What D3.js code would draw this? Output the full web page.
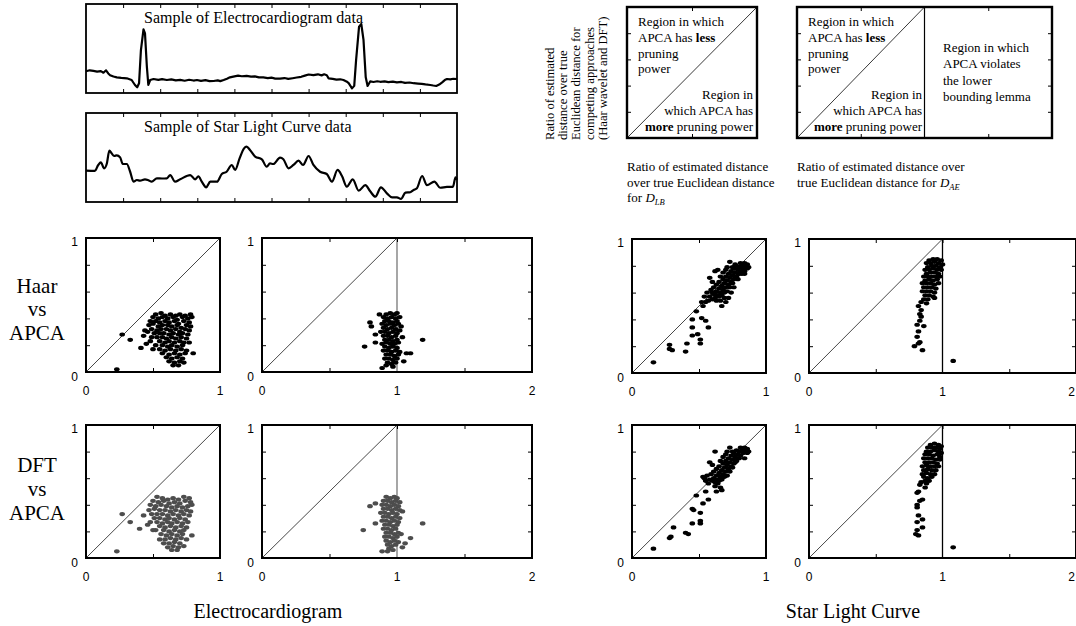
<!DOCTYPE html>
<html><head><meta charset="utf-8">
<script src="https://cdn.jsdelivr.net/npm/d3@7"></script>
<style>body{margin:0;background:#fff}svg{display:block}</style>
</head><body><svg id="c" width="1076" height="626"></svg>
<script>
// ---------- DATA ----------
const ecgSamples = [[0,24.5],[0.1,25.5],[0.2,24.8],[0.3,24],[0.4,24.6],[0.47,22.8],[0.54,25.5],[0.6,22],[0.65,20],[0.74,18.5],[0.83,17.6],[0.95,17],[1.10,16.5],[1.23,14.6],[1.32,9],[1.38,6.4],[1.43,11],[1.48,48],[1.55,71.5],[1.59,67],[1.64,30],[1.68,9],[1.73,14.6],[1.82,15.7],[1.95,14.8],[2.05,15.6],[2.18,14.6],[2.3,15.3],[2.42,14.2],[2.54,14.8],[2.66,13.8],[2.78,14.9],[2.9,14],[2.99,14.6],[3.1,13.6],[3.22,14.4],[3.33,13.3],[3.44,13.5],[3.55,14.2],[3.62,13.3],[3.71,14.6],[3.8,16],[3.88,17.6],[3.97,18.4],[4.1,19.5],[4.2,18.8],[4.33,19.2],[4.45,18.4],[4.55,18.7],[4.66,17.6],[4.78,17.6],[4.9,16.8],[5.0,17.2],[5.1,16.2],[5.23,16.1],[5.35,16.8],[5.45,15.8],[5.57,16.6],[5.68,17.4],[5.8,18.2],[5.9,19.5],[6.0,20.8],[6.13,20],[6.25,21],[6.35,19.8],[6.42,21],[6.49,20],[6.54,16.5],[6.65,15.8],[6.75,15],[6.85,15.4],[6.94,14.6],[7.02,13],[7.08,11],[7.17,5.2],[7.23,8],[7.28,37],[7.36,74.5],[7.42,77.5],[7.48,59.6],[7.54,17.6],[7.59,7.9],[7.66,13],[7.75,12.4],[7.85,13.2],[7.93,12.6],[8.05,13],[8.15,12.2],[8.27,12.8],[8.38,12],[8.5,12.4],[8.6,11.4],[8.72,11.8],[8.83,11],[8.95,10.6],[9.05,10.2],[9.15,9.6],[9.28,9],[9.36,8.4],[9.44,7.9],[9.52,9.5],[9.60,12],[9.67,14.5],[9.73,15.7],[9.82,15.4],[9.9,16],[10.0,15.7]];

const starSamples = [[0,35.2],[0.24,35],[0.33,41.6],[0.40,44.6],[0.49,37.8],[0.56,43],[0.63,57.7],[0.69,54.7],[0.76,51.7],[0.83,52.5],[0.92,50.2],[0.99,42.7],[1.10,42.7],[1.19,34],[1.28,22.8],[1.37,24.7],[1.46,24],[1.59,25.5],[1.68,24.5],[1.77,22.8],[1.91,26.6],[2.05,26.4],[2.18,26.6],[2.27,30.3],[2.40,22.8],[2.54,25.5],[2.81,30.3],[2.94,25.5],[3.03,28.8],[3.12,22.8],[3.24,16.5],[3.35,22.8],[3.53,22.8],[3.66,31.5],[3.79,34],[3.93,41.6],[4.02,36],[4.14,49],[4.26,60.3],[4.33,62.2],[4.42,58.5],[4.56,51],[4.74,48],[4.87,39.7],[4.96,43.4],[5.05,42.7],[5.23,49.8],[5.32,48],[5.46,37.8],[5.59,41.6],[5.73,46.4],[5.85,41.6],[6.00,51.7],[6.13,41.6],[6.31,34],[6.49,31.5],[6.63,22.8],[6.78,36],[6.90,29.2],[7.03,17.2],[7.19,25.5],[7.35,12.7],[7.53,19],[7.66,12],[7.80,6],[7.95,16.5],[8.11,9.7],[8.25,5.2],[8.38,5.2],[8.49,3.4],[8.61,10.5],[8.74,11],[8.83,13.5],[8.92,15.5],[9.06,29.2],[9.19,19],[9.39,22.8],[9.55,16],[9.73,17],[9.89,17],[9.96,27.7],[10,25]];

const lineTicks = [1,2,3,4,5,6,7,8,9];
const yTicks = [0.2,0.4,0.6,0.8];

const ecgHaarLB = [[0.52,0.43],[0.56,0.44],[0.59,0.42],[0.63,0.43],[0.67,0.42],[0.70,0.43],[0.74,0.42],[0.78,0.43],
[0.50,0.41],[0.54,0.40],[0.57,0.41],[0.61,0.40],[0.65,0.41],[0.68,0.39],[0.72,0.41],[0.76,0.40],[0.79,0.41],
[0.48,0.38],[0.52,0.38],[0.55,0.37],[0.59,0.38],[0.62,0.37],[0.66,0.38],[0.69,0.36],[0.73,0.38],[0.77,0.37],
[0.47,0.35],[0.50,0.36],[0.54,0.34],[0.57,0.35],[0.61,0.35],[0.64,0.34],[0.68,0.35],[0.71,0.33],[0.75,0.35],[0.78,0.34],
[0.49,0.32],[0.53,0.31],[0.56,0.32],[0.60,0.32],[0.63,0.31],[0.67,0.32],[0.70,0.30],[0.74,0.32],[0.77,0.31],
[0.46,0.30],[0.51,0.29],[0.55,0.29],[0.58,0.29],[0.62,0.28],[0.65,0.29],[0.69,0.28],[0.72,0.29],[0.76,0.28],
[0.49,0.26],[0.53,0.26],[0.57,0.26],[0.60,0.25],[0.64,0.26],[0.67,0.25],[0.71,0.26],[0.75,0.25],
[0.48,0.23],[0.55,0.23],[0.59,0.22],[0.62,0.23],[0.66,0.22],[0.70,0.23],[0.73,0.22],[0.77,0.22],
[0.52,0.20],[0.57,0.20],[0.61,0.19],[0.64,0.20],[0.68,0.19],[0.72,0.20],
[0.50,0.17],[0.55,0.17],[0.59,0.16],[0.63,0.17],[0.67,0.16],[0.71,0.17],[0.75,0.16],
[0.57,0.14],[0.62,0.13],[0.66,0.14],[0.70,0.13],[0.74,0.14],[0.80,0.14],
[0.60,0.11],[0.64,0.10],[0.68,0.11],[0.72,0.10],
[0.62,0.08],[0.66,0.07],[0.70,0.08],[0.73,0.07],
[0.65,0.05],[0.69,0.05],
[0.27,0.28],[0.33,0.24],[0.41,0.18],[0.43,0.27],[0.23,0.02],[0.45,0.21],[0.44,0.31]];

const ecgHaarAE = [[0.92,0.43],[0.95,0.44],[0.98,0.43],[1.00,0.44],[0.87,0.43],
[0.90,0.41],[0.93,0.40],[0.96,0.41],[0.99,0.40],[1.02,0.41],
[0.91,0.38],[0.94,0.38],[0.97,0.37],[1.00,0.38],[0.80,0.37],
[0.89,0.36],[0.92,0.35],[0.95,0.36],[0.98,0.35],[1.01,0.36],[1.03,0.34],[0.81,0.34],
[0.90,0.33],[0.93,0.32],[0.96,0.33],[0.99,0.32],[1.02,0.31],
[0.88,0.30],[0.91,0.30],[0.94,0.29],[0.97,0.30],[1.00,0.29],
[0.90,0.27],[0.93,0.27],[0.96,0.26],[0.99,0.27],[1.04,0.26],[0.84,0.28],
[0.91,0.24],[0.94,0.24],[0.97,0.23],[1.00,0.24],
[0.89,0.21],[0.92,0.22],[0.95,0.21],[0.98,0.21],[1.01,0.22],[0.84,0.22],
[0.91,0.19],[0.94,0.18],[0.97,0.19],[1.00,0.18],[0.76,0.19],
[0.90,0.16],[0.93,0.16],[0.96,0.15],[0.99,0.16],[1.02,0.15],
[0.92,0.13],[0.95,0.13],[0.98,0.12],[1.01,0.13],[1.07,0.14],[1.10,0.14],
[0.91,0.10],[0.94,0.10],[0.97,0.09],[1.00,0.10],[1.05,0.08],
[0.93,0.07],[0.96,0.06],[0.99,0.07],
[0.92,0.05],[0.89,0.03],[0.97,0.04],[1.19,0.24]];

const ecgDftLB = [[0.53,0.46],[0.57,0.45],[0.61,0.44],[0.65,0.45],[0.69,0.44],[0.73,0.46],[0.77,0.45],
[0.50,0.43],[0.54,0.42],[0.58,0.43],[0.62,0.41],[0.66,0.42],[0.70,0.41],[0.74,0.43],[0.78,0.42],
[0.48,0.40],[0.52,0.39],[0.56,0.40],[0.60,0.39],[0.64,0.38],[0.68,0.39],[0.72,0.38],[0.76,0.39],[0.79,0.40],
[0.47,0.36],[0.51,0.37],[0.55,0.36],[0.59,0.36],[0.63,0.35],[0.67,0.36],[0.71,0.35],[0.75,0.36],[0.78,0.35],
[0.49,0.33],[0.53,0.33],[0.57,0.33],[0.61,0.32],[0.65,0.33],[0.69,0.32],[0.73,0.33],[0.77,0.32],
[0.51,0.30],[0.55,0.30],[0.59,0.29],[0.62,0.30],[0.66,0.29],[0.70,0.30],[0.74,0.29],
[0.48,0.27],[0.53,0.27],[0.57,0.26],[0.61,0.27],[0.64,0.26],[0.68,0.27],[0.72,0.26],[0.76,0.27],
[0.55,0.24],[0.59,0.23],[0.63,0.24],[0.67,0.23],[0.71,0.24],[0.75,0.23],
[0.52,0.21],[0.58,0.21],[0.62,0.20],[0.66,0.21],[0.70,0.20],[0.73,0.21],
[0.56,0.18],[0.60,0.17],[0.64,0.18],[0.68,0.17],[0.72,0.18],[0.79,0.17],
[0.55,0.14],[0.59,0.14],[0.63,0.15],[0.67,0.14],[0.71,0.15],[0.75,0.14],
[0.58,0.11],[0.62,0.11],[0.66,0.12],[0.70,0.11],
[0.61,0.08],[0.65,0.09],[0.69,0.08],[0.73,0.09],
[0.64,0.06],[0.68,0.06],
[0.27,0.33],[0.33,0.27],[0.40,0.22],[0.23,0.05],[0.43,0.32],[0.50,0.21],[0.46,0.25]];

const ecgDftAE = [[0.92,0.46],[0.95,0.45],[0.98,0.46],[1.00,0.45],
[0.90,0.43],[0.93,0.43],[0.96,0.42],[0.99,0.43],[1.02,0.42],[0.84,0.41],
[0.89,0.40],[0.92,0.40],[0.95,0.39],[0.98,0.40],[1.01,0.39],[0.80,0.39],
[0.90,0.37],[0.93,0.37],[0.96,0.36],[0.99,0.37],[1.02,0.36],[1.04,0.35],
[0.88,0.34],[0.91,0.34],[0.94,0.33],[0.97,0.34],[1.00,0.33],
[0.90,0.31],[0.93,0.31],[0.96,0.30],[0.99,0.31],[1.02,0.30],
[0.89,0.28],[0.92,0.28],[0.95,0.27],[0.98,0.28],[1.01,0.27],[0.84,0.26],
[0.91,0.25],[0.94,0.25],[0.97,0.24],[1.00,0.25],[1.19,0.26],
[0.90,0.22],[0.93,0.22],[0.96,0.21],[0.99,0.22],[0.75,0.21],
[0.92,0.19],[0.95,0.19],[0.98,0.18],[1.01,0.19],[1.03,0.18],
[0.91,0.16],[0.94,0.16],[0.97,0.15],[1.00,0.16],[1.10,0.15],
[0.92,0.13],[0.95,0.12],[0.98,0.13],[1.01,0.12],[1.06,0.11],
[0.93,0.10],[0.96,0.09],[0.99,0.10],[1.04,0.08],
[0.94,0.07],[0.97,0.06],[0.89,0.05],[0.93,0.05]];

const starHaarLB = [[0.86,0.81],[0.85,0.79],[0.84,0.82],[0.83,0.78],[0.82,0.80],[0.81,0.76],[0.80,0.79],[0.80,0.74],[0.79,0.77],[0.78,0.80],[0.78,0.72],[0.77,0.75],[0.76,0.78],[0.76,0.70],[0.75,0.73],[0.74,0.76],[0.74,0.68],[0.73,0.83],[0.73,0.71],[0.72,0.74],[0.72,0.66],[0.71,0.69],[0.70,0.77],[0.70,0.72],[0.70,0.64],[0.69,0.67],[0.68,0.75],[0.68,0.70],[0.68,0.62],[0.67,0.65],[0.66,0.72],[0.66,0.60],[0.65,0.68],[0.65,0.63],[0.64,0.58],[0.64,0.77],[0.63,0.66],[0.63,0.61],[0.62,0.76],[0.62,0.56],[0.61,0.64],[0.61,0.59],[0.60,0.55],[0.60,0.68],[0.59,0.62],[0.58,0.71],[0.58,0.57],[0.57,0.54],[0.56,0.60],[0.55,0.53],[0.54,0.57],[0.53,0.50],[0.52,0.53],[0.67,0.50],[0.70,0.53],[0.72,0.56],[0.74,0.60],[0.76,0.64],[0.79,0.70],[0.82,0.74],[0.84,0.76],[0.87,0.79],[0.77,0.81],[0.75,0.79],[0.71,0.79],[0.69,0.56],[0.66,0.54],[0.63,0.54],[0.81,0.82],[0.83,0.80],[0.79,0.74],[0.77,0.71],[0.75,0.67],[0.73,0.64],[0.71,0.61],[0.69,0.60],[0.67,0.58],[0.65,0.57],[0.62,0.59],[0.60,0.60],[0.86,0.78],[0.84,0.74],
[0.16,0.08],[0.28,0.21],[0.28,0.18],[0.30,0.17],[0.40,0.16],[0.41,0.22],[0.45,0.28],[0.45,0.34],[0.45,0.40],[0.49,0.29],[0.51,0.25],[0.51,0.22],[0.52,0.41],[0.48,0.46],[0.55,0.39],[0.57,0.34]];

const starHaarAE = [[0.90,0.84],[0.93,0.85],[0.96,0.85],[0.99,0.84],[0.88,0.82],[0.91,0.82],[0.94,0.83],[0.97,0.82],[1.00,0.81],[0.89,0.79],[0.92,0.80],[0.95,0.80],[0.98,0.79],[0.87,0.77],[0.90,0.77],[0.93,0.78],[0.96,0.77],[0.99,0.77],[0.88,0.74],[0.91,0.75],[0.94,0.75],[0.97,0.74],[0.86,0.72],[0.89,0.72],[0.92,0.72],[0.95,0.72],[0.98,0.72],[0.87,0.69],[0.90,0.70],[0.93,0.69],[0.96,0.70],[0.85,0.67],[0.88,0.67],[0.91,0.67],[0.94,0.66],[0.97,0.67],[0.86,0.64],[0.89,0.64],[0.92,0.64],[0.95,0.63],[0.85,0.61],[0.88,0.61],[0.91,0.61],[0.94,0.60],[0.87,0.58],[0.90,0.58],[0.93,0.57],[0.86,0.55],[0.89,0.55],[0.94,0.56],[0.88,0.52],[0.84,0.53],
[0.82,0.50],[0.83,0.44],[0.84,0.42],[0.81,0.36],[0.86,0.35],[0.82,0.31],[0.81,0.27],[0.83,0.23],[0.82,0.22],[0.79,0.20],[0.85,0.17],[0.83,0.39],[0.84,0.47],[1.08,0.09]];

const starDftLB = [[0.86,0.82],[0.85,0.80],[0.84,0.83],[0.83,0.79],[0.82,0.81],[0.81,0.77],[0.80,0.80],[0.80,0.75],[0.79,0.78],[0.78,0.81],[0.78,0.73],[0.77,0.76],[0.76,0.79],[0.76,0.71],[0.75,0.74],[0.74,0.77],[0.74,0.69],[0.73,0.83],[0.73,0.72],[0.72,0.75],[0.72,0.67],[0.71,0.70],[0.70,0.78],[0.70,0.73],[0.70,0.65],[0.69,0.68],[0.68,0.76],[0.68,0.71],[0.68,0.63],[0.67,0.66],[0.66,0.73],[0.66,0.61],[0.65,0.69],[0.65,0.64],[0.64,0.59],[0.63,0.67],[0.63,0.62],[0.62,0.80],[0.62,0.57],[0.61,0.65],[0.61,0.60],[0.60,0.58],[0.60,0.70],[0.59,0.63],[0.58,0.72],[0.58,0.59],[0.57,0.56],[0.56,0.62],[0.55,0.58],[0.54,0.60],[0.53,0.61],[0.81,0.83],[0.83,0.81],[0.79,0.75],[0.77,0.72],[0.75,0.68],[0.73,0.65],[0.71,0.62],[0.69,0.61],[0.67,0.59],[0.65,0.58],[0.86,0.79],[0.84,0.75],[0.87,0.80],[0.75,0.80],[0.71,0.80],[0.64,0.56],[0.62,0.54],
[0.16,0.07],[0.28,0.15],[0.29,0.16],[0.31,0.23],[0.40,0.19],[0.42,0.18],[0.45,0.26],[0.45,0.37],[0.46,0.36],[0.51,0.34],[0.51,0.28],[0.51,0.26],[0.53,0.41],[0.48,0.47],[0.57,0.44],[0.55,0.50],[0.63,0.50],[0.66,0.53],[0.67,0.51]];

const starDftAE = [[0.91,0.85],[0.94,0.86],[0.97,0.85],[0.99,0.84],[0.89,0.83],[0.92,0.83],[0.95,0.83],[0.98,0.82],[0.88,0.80],[0.91,0.80],[0.94,0.81],[0.97,0.80],[0.99,0.79],[0.87,0.78],[0.90,0.78],[0.93,0.77],[0.96,0.78],[0.98,0.76],[0.86,0.75],[0.89,0.75],[0.92,0.75],[0.95,0.74],[0.98,0.74],[0.87,0.72],[0.90,0.72],[0.93,0.72],[0.96,0.71],[0.85,0.69],[0.88,0.70],[0.91,0.69],[0.94,0.69],[0.97,0.69],[0.86,0.66],[0.89,0.67],[0.92,0.66],[0.95,0.66],[0.85,0.63],[0.88,0.64],[0.91,0.63],[0.94,0.63],[0.86,0.61],[0.89,0.60],[0.92,0.61],[0.87,0.58],[0.90,0.58],[0.84,0.57],[0.88,0.56],
[0.83,0.55],[0.82,0.50],[0.81,0.49],[0.87,0.53],[0.85,0.44],[0.83,0.43],[0.81,0.40],[0.81,0.38],[0.82,0.32],[0.85,0.29],[0.81,0.27],[0.85,0.23],[0.81,0.21],[0.80,0.18],[0.82,0.17],[1.08,0.08]];

// ---------- DRAWING ----------
const svg = d3.select("#c");
const serif = "'Liberation Serif','Times New Roman',serif";
const sans = "'Liberation Sans',Arial,sans-serif";

function frame(g, x, y, w, h, sw){
  g.append("rect").attr("x",x).attr("y",y).attr("width",w).attr("height",h)
   .attr("fill","none").attr("stroke","#000").attr("stroke-width",sw);
}
function tickAxis(g, axisFn, scale, values, tx, ty, size){
  const gg = g.append("g").attr("transform",`translate(${tx},${ty})`)
    .call(axisFn(scale).tickValues(values).tickSize(size).tickFormat(""));
  gg.select(".domain").remove();
  gg.selectAll("line").attr("stroke","#000").attr("stroke-width",1);
}
function txt(g, x, y, s, size, anchor, family){
  return g.append("text").attr("x",x).attr("y",y).attr("font-family",family||serif)
    .attr("font-size",size).attr("text-anchor",anchor||"start").attr("fill","#000").text(s);
}

// Time-series panels
function seriesPanel(top, samples, title, curve){
  const g = svg.append("g");
  const x = d3.scaleLinear([0,10],[86,457]);
  const y = d3.scaleLinear([0,100],[top+89,top]);
  g.append("path").datum(samples)
   .attr("d", d3.line().x(d=>x(d[0])).y(d=>y(d[1])).curve(curve))
   .attr("fill","none").attr("stroke","#000").attr("stroke-width",2.2).attr("stroke-linejoin","round");
  frame(g, 86, top, 371, 89, 1.8);
  tickAxis(g, d3.axisBottom, x, lineTicks, 0, top+89, -4);
  tickAxis(g, d3.axisTop, x, lineTicks, 0, top, -4);
  txt(g, 144, top+19, title, 16);
}
seriesPanel(4, ecgSamples, "Sample of Electrocardiogram data", d3.curveLinear);
seriesPanel(113, starSamples, "Sample of Star Light Curve data", d3.curveMonotoneX);

// Region diagrams
(function(){
  const g = svg.append("g");
  const yA = d3.scaleLinear([0,1],[138,7]);
  const xL = d3.scaleLinear([0,1],[627,757]);
  const xR = d3.scaleLinear([0,2],[797,1052]);
  g.append("line").attr("x1",xL(0)).attr("y1",yA(0)).attr("x2",xL(1)).attr("y2",yA(1)).attr("stroke","#222").attr("stroke-width",0.9);
  frame(g, 627, 7, 130, 131, 2.4);
  tickAxis(g, d3.axisLeft, yA, yTicks, 627, 0, -4);
  tickAxis(g, d3.axisBottom, xL, [0.5], 0, 138, -4);
  tickAxis(g, d3.axisTop, xL, [0.5], 0, 7, -4);
  g.append("line").attr("x1",xR(0)).attr("y1",yA(0)).attr("x2",xR(1)).attr("y2",yA(1)).attr("stroke","#222").attr("stroke-width",0.9);
  g.append("line").attr("x1",xR(1)).attr("y1",yA(0)).attr("x2",xR(1)).attr("y2",yA(1)).attr("stroke","#000").attr("stroke-width",1.2);
  frame(g, 797, 7, 255, 131, 2.4);
  tickAxis(g, d3.axisLeft, yA, yTicks, 797, 0, -4);
  tickAxis(g, d3.axisRight, yA, yTicks, 1052, 0, -4);
  tickAxis(g, d3.axisBottom, xR, [0.5,1.5], 0, 138, -4);
  tickAxis(g, d3.axisTop, xR, [0.5,1.5], 0, 7, -4);

  function less(x0){
    txt(g, x0, 26, "Region in which", 13);
    const t = txt(g, x0, 42, "APCA has ", 13);
    t.append("tspan").attr("font-weight","bold").text("less");
    txt(g, x0, 57.5, "pruning", 13);
    txt(g, x0, 73, "power", 13);
  }
  function more(x1){
    txt(g, x1, 99, "Region in", 13, "end");
    txt(g, x1, 115, "which APCA has", 13, "end");
    const t = g.append("text").attr("x",x1).attr("y",131).attr("font-family",serif).attr("font-size",13).attr("text-anchor","end");
    t.append("tspan").attr("font-weight","bold").text("more");
    t.append("tspan").text(" pruning power");
  }
  less(638); more(753);
  less(808); more(922);
  txt(g, 943, 52, "Region in which", 13);
  txt(g, 943, 68, "APCA violates", 13);
  txt(g, 943, 84.5, "the lower", 13);
  txt(g, 943, 101, "bounding lemma", 13);

  const ylab = ["Ratio of estimated","distance over true","Euclidean distance for","competing approaches","(Haar wavelet and DFT)"];
  ylab.forEach((s,i)=>{
    g.append("text").attr("transform",`translate(${554+i*13.2},140) rotate(-90)`)
     .attr("font-family",serif).attr("font-size",12.6).text(s);
  });
  txt(g, 627, 171, "Ratio of estimated distance", 13);
  txt(g, 627, 186.5, "over true Euclidean distance", 13);
  const f1 = txt(g, 627, 202, "for ", 13);
  f1.append("tspan").attr("font-style","italic").text("D");
  f1.append("tspan").attr("font-style","italic").attr("font-size",8.5).attr("dy",3).text("LB");
  txt(g, 797, 171, "Ratio of estimated distance over", 13);
  const f2 = txt(g, 797, 186.5, "true Euclidean distance for ", 13);
  f2.append("tspan").attr("font-style","italic").text("D");
  f2.append("tspan").attr("font-style","italic").attr("font-size",8.5).attr("dy",3).text("AE");
})();

// Scatter panels
function scatter(left, top, w, h, xMax, pts, color, vColor){
  const g = svg.append("g");
  const x = d3.scaleLinear([0,xMax],[left,left+w]);
  const y = d3.scaleLinear([0,1],[top+h,top]);
  g.append("line").attr("x1",x(0)).attr("y1",y(0)).attr("x2",x(1)).attr("y2",y(1))
   .attr("stroke","#333").attr("stroke-width",0.9);
  if (xMax === 2) {
    g.append("line").attr("x1",x(1)).attr("y1",y(0)).attr("x2",x(1)).attr("y2",y(1))
     .attr("stroke",vColor).attr("stroke-width",1.3);
  }
  g.selectAll("ellipse").data(pts).join("ellipse")
   .attr("cx",d=>x(d[0])).attr("cy",d=>y(d[1])).attr("rx",2.8).attr("ry",2.1).attr("fill",color);
  frame(g, left, top, w, h, 2);
  tickAxis(g, d3.axisLeft, y, yTicks, left, 0, -4);
  tickAxis(g, d3.axisBottom, x, xMax === 2 ? [0.5,1.5] : [0.5], 0, top+h, -4);
  tickAxis(g, d3.axisTop, x, xMax === 2 ? [0.5,1,1.5] : [0.5], 0, top, -4);
  if (xMax === 2) tickAxis(g, d3.axisRight, y, yTicks, left+w, 0, -4);
  txt(g, left-8, y(1)+8, "1", 12, "end", sans);
  txt(g, left-8, y(0)+9, "0", 12, "end", sans);
  d3.range(0, xMax+1).forEach(v => {
    const px = x(v);
    if (px > 1068) txt(g, 1075, top+h+23, String(v), 12, "end", sans);
    else txt(g, px, top+h+23, String(v), 12, "middle", sans);
  });
}
scatter(86, 238, 134, 134, 1, ecgHaarLB, "#000");
scatter(262, 238, 270, 134, 2, ecgHaarAE, "#000", "#777");
scatter(632, 239, 134, 134, 1, starHaarLB, "#000");
scatter(809, 239, 267, 134, 2, starHaarAE, "#000", "#000");
scatter(86, 425, 134, 133, 1, ecgDftLB, "#4d4d4d");
scatter(262, 425, 270, 133, 2, ecgDftAE, "#4d4d4d", "#777");
scatter(632, 425, 134, 133, 1, starDftLB, "#000");
scatter(809, 425, 267, 133, 2, starDftAE, "#000", "#000");

[["Haar",293],["vs",316],["APCA",340]].forEach(([s,yy])=>txt(svg, 37, yy, s, 21, "middle"));
[["DFT",472],["vs",496],["APCA",520]].forEach(([s,yy])=>txt(svg, 37, yy, s, 21, "middle"));
txt(svg, 268, 618, "Electrocardiogram", 20, "middle");
txt(svg, 853, 618, "Star Light Curve", 20, "middle");
</script></body></html>
